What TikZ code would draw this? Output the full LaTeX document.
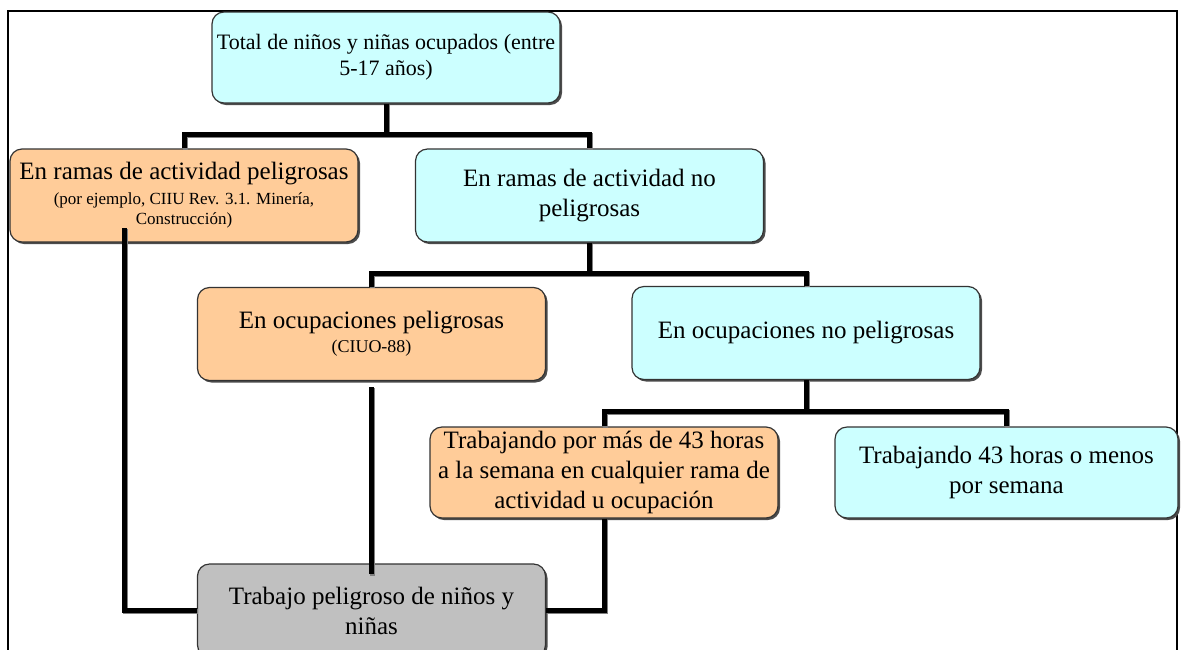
\documentclass[tikz,border=0pt]{standalone}
\usepackage{fontspec}
\setmainfont{Liberation Serif}
\usetikzlibrary{shadows}

\definecolor{celeste}{HTML}{CCFFFF}
\definecolor{naranja}{HTML}{FFCC99}
\definecolor{gris}{HTML}{C0C0C0}

\begin{document}
\begin{tikzpicture}[x=0.5pt, y=-0.5pt,
    caja/.style={draw=black!80, line width=0.6pt, rounded corners=6pt, align=center,
      inner sep=0pt, minimum width=174pt, minimum height=46.5pt,
      drop shadow={shadow xshift=1pt, shadow yshift=-1pt, fill=black!70, opacity=1},
      font=\fontsize{12.5}{15}\selectfont},
    seguro/.style={caja, fill=celeste},
    peligro/.style={caja, fill=naranja},
    final/.style={caja, fill=gris},
    conn/.style={line width=2.5pt,
      preaction={draw=gray, line width=2.5pt, transform canvas={xshift=0.6pt, yshift=-0.6pt}}}]
  \useasboundingbox (0,0) rectangle (1183,649);
  \clip (0,0) rectangle (1183,649);
  % marco
  \draw[line width=1.2pt] (8,700) -- (8,11) -- (1177,11) -- (1177,700);

  \node[seguro, minimum height=45.5pt, font=\fontsize{11}{13}\selectfont] (tot) at (386,57.5)
    {Total de niños y niñas ocupados (entre\\5-17 años)};
  \node[peligro] (rama_pel) at (184,195.5)
    {En ramas de actividad peligrosas\\[-2.5pt]{\fontsize{8.5}{11}\selectfont (por ejemplo, CIIU Rev. 3.1. Minería,}\\[-5pt]{\fontsize{8.5}{11}\selectfont Construcción)}};
  \node[seguro] (rama_nopel) at (589.5,195.5) {En ramas de actividad no\\peligrosas};
  \node[peligro] (ocup_pel) at (371.5,334)
    {En ocupaciones peligrosas\\[-3pt]{\fontsize{9}{11}\selectfont (CIUO-88)}};
  \node[seguro] (ocup_nopel) at (806,333) {En ocupaciones no peligrosas};
  \node[peligro, minimum height=45.5pt] (horas_mas) at (604,472.5)
    {Trabajando por más de 43 horas\\a la semana en cualquier rama de\\actividad u ocupación};
  \node[seguro, minimum width=171.5pt, minimum height=45.5pt] (horas_menos) at (1006.5,472.5)
    {Trabajando 43 horas o menos\\por semana};
  \node[final] (trab_pel) at (371.5,610.5) {Trabajo peligroso de niños y\\niñas};

  % ramas
  \coordinate (b1) at (386,134);
  \coordinate (b2) at (589.5,273);
  \coordinate (b3) at (806,411);
  \draw[conn] (tot.south) -- (b1);
  \draw[conn] (rama_pel.north) |- (b1) -| (rama_nopel.north);
  \draw[conn] (rama_nopel.south) -- (b2);
  \draw[conn] (ocup_pel.north) |- (b2) -| (ocup_nopel.north);
  \draw[conn] (ocup_nopel.south) -- (b3);
  \draw[conn] (horas_mas.north) |- (b3) -| (horas_menos.north);

  % hacia el trabajo peligroso
  \coordinate (izq) at (124,228);
  \draw[conn] (izq) |- (trab_pel.west);
  \draw[conn] ([yshift=-3pt]ocup_pel.south) -- ([yshift=-5.5pt]trab_pel.north);
  \draw[conn] (horas_mas.south) |- (trab_pel.east);
\end{tikzpicture}
\end{document}
